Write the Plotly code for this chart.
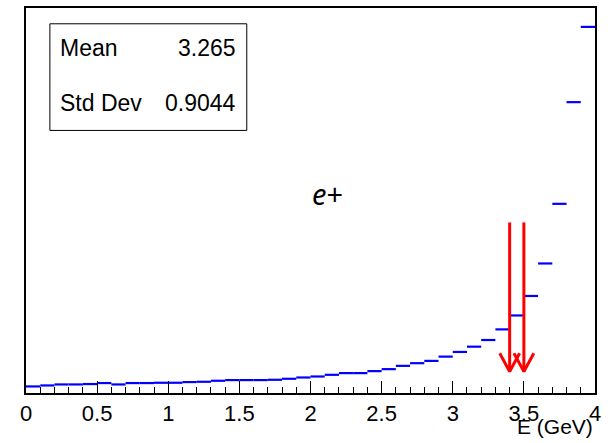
import plotly.graph_objects as go

# Histogram data (40 bins, 0-4 GeV), arbitrary units
bin_lo = [round(0.1 * i, 1) for i in range(40)]
bin_width = 0.1
counts = [6.6, 7.6, 8.6, 8.6, 9.0, 10.0, 8.6, 10.0, 10.0, 10.3,
          10.3, 11.0, 11.3, 12.3, 13.0, 13.0, 13.0, 13.3, 14.3, 15.6,
          16.6, 18.3, 20.0, 20.0, 22.0, 24.0, 27.3, 30.0, 32.3, 36.6,
          41.3, 46.6, 53.3, 64.0, 78.0, 97.6, 130.3, 190.3, 292.6, 368.3]
cut_values = [3.4, 3.5]
stats_labels = ["Mean", "Std Dev"]
stats_values = ["3.265", "0.9044"]
tick_vals = [0, 0.5, 1, 1.5, 2, 2.5, 3, 3.5, 4]
tick_text = ["0", "0.5", "1", "1.5", "2", "2.5", "3", "3.5", "4"]

centers = [lo + bin_width / 2 for lo in bin_lo]

fig = go.Figure()
fig.add_trace(go.Scatter(
    x=centers, y=counts, mode="markers",
    marker=dict(size=1, color="rgba(0,0,255,0)"),
    error_x=dict(type="constant", value=bin_width / 2, symmetric=True,
                 color="#0000ff", thickness=2.2, width=0),
    showlegend=False, hoverinfo="skip"))

# Cut arrows
arrow_top, arrow_bottom, head_top, head_half = 171.6, 21.6, 40.0, 0.07
for c in cut_values:
    fig.add_trace(go.Scatter(x=[c, c], y=[arrow_top, arrow_bottom], mode="lines",
                             line=dict(color="#ff0000", width=3), showlegend=False,
                             hoverinfo="skip"))
    fig.add_trace(go.Scatter(x=[c - head_half, c, c + head_half],
                             y=[head_top, arrow_bottom, head_top], mode="lines",
                             line=dict(color="#ff0000", width=3), showlegend=False,
                             hoverinfo="skip"))

font_main = "Liberation Sans, Arial, Helvetica, sans-serif"

fig.update_layout(
    width=608, height=443,
    margin=dict(l=26, r=13, t=6, b=50),
    paper_bgcolor="white", plot_bgcolor="white",
    xaxis=dict(range=[0, 4], tickvals=tick_vals, ticktext=tick_text,
               ticks="inside", ticklen=12, tickwidth=1, tickcolor="black",
               minor=dict(dtick=0.1, ticks="inside", ticklen=6, tickcolor="black", tickwidth=1),
               showline=True, linecolor="black", linewidth=1.5, mirror=True,
               showgrid=False, zeroline=False,
               tickfont=dict(family=font_main, size=22, color="black")),
    yaxis=dict(range=[0, 387.3], showticklabels=False, ticks="",
               showline=True, linecolor="black", linewidth=1.5, mirror=True,
               showgrid=False, zeroline=False),
    shapes=[dict(type="rect", xref="paper", yref="paper",
                 x0=0.042, x1=0.388, y0=0.682, y1=0.959,
                 line=dict(color="black", width=1), fillcolor="white", layer="above")],
)

ann = []
ys = [0.896, 0.752]
for lab, val, yy in zip(stats_labels, stats_values, ys):
    ann.append(dict(xref="paper", yref="paper", x=0.056, y=yy, text=lab,
                    showarrow=False, xanchor="left", yanchor="middle",
                    font=dict(family=font_main, size=23, color="black")))
    ann.append(dict(xref="paper", yref="paper", x=0.373, y=yy, text=val,
                    showarrow=False, xanchor="right", yanchor="middle",
                    font=dict(family=font_main, size=23, color="black")))
ann.append(dict(xref="paper", yref="paper", x=1.0, y=-0.088, text="E (GeV)",
                showarrow=False, xanchor="right", yanchor="middle",
                font=dict(family=font_main, size=21, color="black")))
ann.append(dict(xref="paper", yref="paper", x=0.529, y=0.517, text="<i>e</i>+",
                showarrow=False, xanchor="center", yanchor="middle",
                font=dict(family="Noto Sans, DejaVu Sans, sans-serif", size=29, color="black")))
fig.update_layout(annotations=ann)

fig.write_html("out.html")
